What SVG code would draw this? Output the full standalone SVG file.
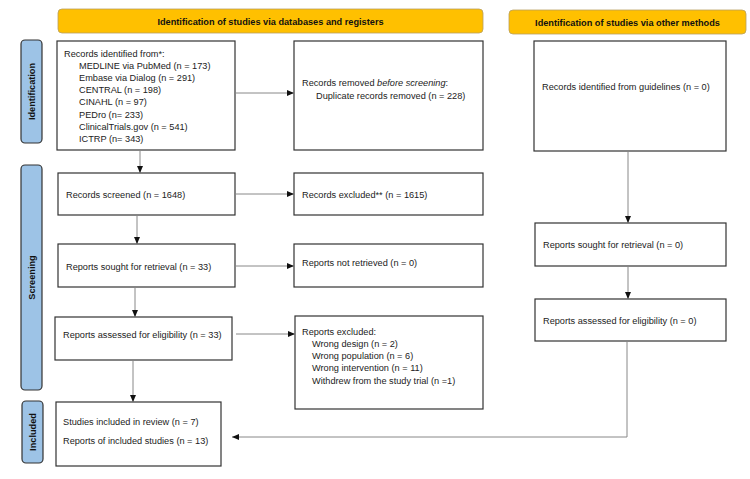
<svg xmlns="http://www.w3.org/2000/svg" width="750" height="479" viewBox="0 0 750 479">
<style>
text{font-family:"Liberation Sans",Arial,sans-serif;font-size:9.2px;fill:#222}
.hd{font-weight:bold;text-anchor:middle;fill:#111}
.side{font-weight:bold;text-anchor:middle;fill:#111}
.box{fill:#fff;stroke:#333;stroke-width:1.2}
.hdr{fill:#FFC000;stroke:#B8A060;stroke-width:0.8}
.lab{fill:#9DC3E6;stroke:#333;stroke-width:1.2}
.con{fill:none;stroke:#888;stroke-width:1}
</style>
<defs>
<marker id="ah" markerUnits="userSpaceOnUse" markerWidth="8" markerHeight="6" refX="7" refY="3" orient="auto">
<path d="M0,0 L7,3 L0,6 Z" fill="#111"/>
</marker>
</defs>
<rect width="750" height="479" fill="#fff"/>
<g id="header-db"><rect class="hdr" x="58" y="9" width="425" height="24" rx="4"/><text class="hd" x="270.5" y="25.3">Identification of studies via databases and registers</text></g>
<g id="header-other"><rect class="hdr" x="509" y="10" width="237" height="24" rx="4"/><text class="hd" x="627.5" y="26.3">Identification of studies via other methods</text></g>
<g id="label-identification"><rect class="lab" x="21" y="40" width="21" height="103" rx="4"/><text class="side" transform="translate(34.5,91.5) rotate(-90)">Identification</text></g>
<g id="label-screening"><rect class="lab" x="21" y="165" width="21" height="225" rx="4"/><text class="side" transform="translate(34.5,277.5) rotate(-90)">Screening</text></g>
<g id="label-included"><rect class="lab" x="22" y="401" width="21" height="62" rx="4"/><text class="side" transform="translate(35.5,432) rotate(-90)">Included</text></g>
<g id="records-identified"><rect class="box" x="57" y="41" width="178" height="109"/>
<text x="64" y="56.5">Records identified from*:</text>
<text x="79" y="68.7">MEDLINE via PubMed (n = 173)</text>
<text x="79" y="80.9">Embase via Dialog (n = 291)</text>
<text x="79" y="93.1">CENTRAL (n = 198)</text>
<text x="79" y="105.3">CINAHL (n = 97)</text>
<text x="79" y="117.5">PEDro (n= 233)</text>
<text x="79" y="129.7">ClinicalTrials.gov (n = 541)</text>
<text x="79" y="141.9">ICTRP (n= 343)</text></g>
<g id="records-removed"><rect class="box" x="294" y="41" width="189" height="109"/>
<text x="302" y="86.3">Records removed <tspan font-style="italic">before screening</tspan>:</text>
<text x="316" y="98.6">Duplicate records removed (n = 228)</text></g>
<g id="records-guidelines"><rect class="box" x="534" y="41" width="192" height="110"/><text x="542" y="89.5">Records identified from guidelines (n = 0)</text></g>
<g id="records-screened"><rect class="box" x="58" y="173" width="177" height="42"/><text x="66" y="197.5">Records screened (n = 1648)</text></g>
<g id="records-excluded"><rect class="box" x="294" y="173" width="189" height="42"/><text x="302" y="197.5">Records excluded** (n = 1615)</text></g>
<g id="reports-sought"><rect class="box" x="58" y="244" width="177" height="43"/><text x="66" y="270.3">Reports sought for retrieval (n = 33)</text></g>
<g id="reports-not-retrieved"><rect class="box" x="294" y="244" width="189" height="43"/><text x="302" y="265.5">Reports not retrieved (n = 0)</text></g>
<g id="reports-assessed"><rect class="box" x="55" y="317" width="177" height="43"/><text x="63" y="338.3">Reports assessed for eligibility (n = 33)</text></g>
<g id="reports-excluded"><rect class="box" x="295" y="316" width="188" height="93"/>
<text x="302" y="335">Reports excluded:</text>
<text x="312" y="346.8">Wrong design (n = 2)</text>
<text x="312" y="359">Wrong population (n = 6)</text>
<text x="312" y="371">Wrong intervention (n = 11)</text>
<text x="312" y="383.6">Withdrew from the study trial (n =1)</text></g>
<g id="studies-included"><rect class="box" x="56" y="402" width="165" height="64"/>
<text x="63" y="424.5">Studies included in review (n = 7)</text>
<text x="63" y="443.5">Reports of included studies (n = 13)</text></g>
<g id="other-sought"><rect class="box" x="535" y="223" width="191" height="43"/><text x="543" y="247.5">Reports sought for retrieval (n = 0)</text></g>
<g id="other-assessed"><rect class="box" x="535" y="299" width="191" height="42"/><text x="543" y="323.5">Reports assessed for eligibility (n = 0)</text></g>
<g id="connectors">
<path class="con" d="M235.6 93 H294" marker-end="url(#ah)"/>
<path class="con" d="M140 150.6 V173" marker-end="url(#ah)"/>
<path class="con" d="M235.6 194 H294" marker-end="url(#ah)"/>
<path class="con" d="M137 215.6 V244" marker-end="url(#ah)"/>
<path class="con" d="M235.6 266 H294" marker-end="url(#ah)"/>
<path class="con" d="M135 287.6 V317" marker-end="url(#ah)"/>
<path class="con" d="M236 334 H295" marker-end="url(#ah)"/>
<path class="con" d="M133 360.6 V402" marker-end="url(#ah)"/>
<path class="con" d="M628 151.6 V223" marker-end="url(#ah)"/>
<path class="con" d="M628 266.6 V299" marker-end="url(#ah)"/>
<path class="con" d="M627 341.6 V437 H232" marker-end="url(#ah)"/>
</g>
</svg>
